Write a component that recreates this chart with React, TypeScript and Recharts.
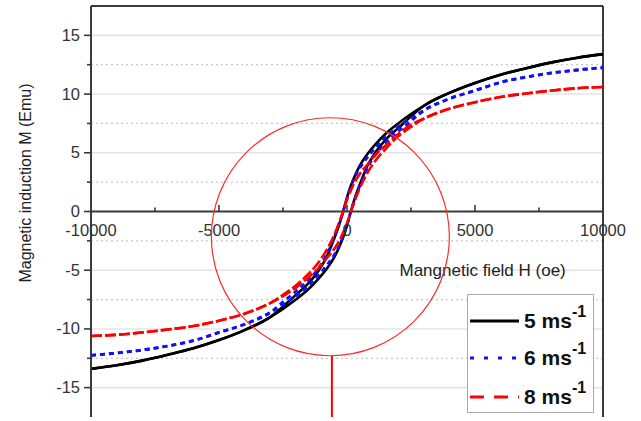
import React from "react";
import {
  LineChart,
  Line,
  XAxis,
  YAxis,
  CartesianGrid,
  ReferenceLine,
  ReferenceDot,
  Legend,
} from "recharts";

// applied field H (oe), shared by every branch
const field = [
  -10000, -9000, -8000, -7000, -6000, -5000, -4000, -3000, -2500, -2000, -1500, -1100, -800, -500, -300, -150, 0,
  150, 300, 500, 800, 1100, 1500, 2000, 2500, 3000, 4000, 5000, 6000, 7000, 8000, 9000, 10000,
];

// 5 ms-1
const m5Rise = [
  -13.4, -13.1, -12.7, -12.2, -11.65, -10.95, -10.1, -9.0, -8.3, -7.5, -6.6, -5.7, -4.9, -3.9, -3.0, -2.2, -1.2,
  0, 1.1, 2.3, 3.9, 5.0, 6.1, 7.1, 8.1, 9.0, 10.1, 10.95, 11.65, 12.2, 12.7, 13.1, 13.4,
];
const m5Fall = [
  -13.4, -13.1, -12.7, -12.2, -11.65, -10.95, -10.1, -9.0, -8.1, -7.1, -6.1, -5.0, -3.9, -2.3, -1.1, 0, 1.2,
  2.2, 3.0, 3.9, 4.9, 5.7, 6.6, 7.5, 8.3, 9.0, 10.1, 10.95, 11.65, 12.2, 12.7, 13.1, 13.4,
];

// 6 ms-1
const m6Rise = [
  -12.25, -12.05, -11.8, -11.45, -11.0, -10.3, -9.6, -8.6, -7.95, -7.2, -6.3, -5.4, -4.6, -3.7, -2.9, -2.1, -1.1,
  0, 1.0, 2.2, 3.7, 4.8, 5.8, 6.8, 7.7, 8.6, 9.6, 10.3, 11.0, 11.45, 11.8, 12.05, 12.25,
];
const m6Fall = [
  -12.25, -12.05, -11.8, -11.45, -11.0, -10.3, -9.6, -8.6, -7.7, -6.8, -5.8, -4.8, -3.7, -2.2, -1.0, 0, 1.1,
  2.1, 2.9, 3.7, 4.6, 5.4, 6.3, 7.2, 7.95, 8.6, 9.6, 10.3, 11.0, 11.45, 11.8, 12.05, 12.25,
];

// 8 ms-1
const m8Rise = [
  -10.6, -10.5, -10.3, -10.05, -9.75, -9.3, -8.7, -7.8, -7.2, -6.5, -5.6, -4.8, -4.0, -3.2, -2.5, -1.8, -1.0,
  0, 0.9, 2.0, 3.3, 4.3, 5.3, 6.4, 7.2, 7.9, 8.75, 9.3, 9.75, 10.05, 10.3, 10.5, 10.6,
];
const m8Fall = [
  -10.6, -10.5, -10.3, -10.05, -9.75, -9.3, -8.7, -7.8, -7.1, -6.3, -5.3, -4.3, -3.3, -2.0, -0.9, 0, 1.0,
  1.8, 2.5, 3.2, 4.0, 4.8, 5.6, 6.6, 7.4, 7.9, 8.75, 9.3, 9.75, 10.05, 10.3, 10.5, 10.6,
];

const speedLabels = ["5", "6", "8"];

const yTicks = [-15, -12.5, -10, -7.5, -5, -2.5, 0, 2.5, 5, 7.5, 10, 12.5, 15];
const majorGrid = [-15, -10, -5, 5, 10, 15];
const minorGrid = [-12.5, -7.5, -2.5, 2.5, 7.5, 12.5];
const xMajorTicks = [-5000, 0, 5000];
const xMinorTicks = [-7500, -2500, 2500, 7500];
const xTickValues = [-10000, -5000, 0, 5000, 10000];
const xTickLabels = ["-10000", "-5000", "0", "5000", "10000"];

const data = field.map((h, i) => ({
  h,
  r5: m5Rise[i],
  f5: m5Fall[i],
  r6: m6Rise[i],
  f6: m6Fall[i],
  r8: m8Rise[i],
  f8: m8Fall[i],
}));

const FONT = "'Liberation Sans', Arial, sans-serif";
const AXIS = "#3a3a3a";

const seriesStyle = [
  { color: "#000000", dash: undefined as string | undefined, width: 2.6, legendDash: undefined as string | undefined },
  { color: "#1010ff", dash: "5 4", width: 2.8, legendDash: "4 10" },
  { color: "#ff0000", dash: "11 3", width: 2.6, legendDash: "14 10" },
];

function YTick(props: any) {
  const { x, y, payload } = props;
  const v = payload.value as number;
  const major = v % 5 === 0;
  return (
    <g>
      <line x1={x - (major ? 7 : 4)} y1={y} x2={x} y2={y} stroke={AXIS} strokeWidth={1.6} />
      {major && (
        <text x={x - 11} y={y + 5.5} textAnchor="end" fontSize={16.5} fill="#333" fontFamily={FONT}>
          {v}
        </text>
      )}
    </g>
  );
}

function LegendBox() {
  const rows = [27, 64, 103];
  return (
    <svg width={127} height={119} style={{ display: "block" }}>
      <rect x={0.5} y={0.5} width={126} height={118} fill="#fff" stroke="#a8a8a8" strokeWidth={1} />
      {speedLabels.map((s, i) => (
        <g key={s}>
          <line
            x1={3}
            x2={52}
            y1={rows[i]}
            y2={rows[i]}
            stroke={seriesStyle[i].color}
            strokeWidth={3}
            strokeDasharray={seriesStyle[i].legendDash}
          />
          <text x={57} y={rows[i] + 7} fontSize={21} fontWeight="bold" fill="#111" fontFamily={FONT}>
            {s} ms
            <tspan fontSize={16} dy={-11}>
              -1
            </tspan>
          </text>
        </g>
      ))}
    </svg>
  );
}

export default function App() {
  return (
    <div style={{ position: "absolute", left: 0, top: 0, width: 641, height: 421, background: "#fff" }}>
      <LineChart width={641} height={421} data={data} margin={{ top: 6, right: 38, left: 31, bottom: 4 }}>
        <CartesianGrid horizontal vertical={false} horizontalValues={majorGrid} stroke="#e4e4e4" strokeWidth={1.6} />
        <CartesianGrid
          horizontal
          vertical={false}
          horizontalValues={minorGrid}
          stroke="#c8c8c8"
          strokeWidth={1.2}
          strokeDasharray="2 3"
        />
        <XAxis dataKey="h" type="number" domain={[-10000, 10000]} hide />
        <YAxis
          type="number"
          domain={[-17.5, 17.5]}
          ticks={yTicks}
          interval={0}
          width={60}
          tickSize={0}
          tickMargin={0}
          tickLine={false}
          axisLine={{ stroke: AXIS, strokeWidth: 2 }}
          tick={<YTick />}
          label={{
            content: () => (
              <text
                transform="translate(31, 183) rotate(-90)"
                textAnchor="middle"
                fontSize={16}
                fill="#222"
                fontFamily={FONT}
              >
                Magnetic induction M (Emu)
              </text>
            ),
          }}
        />

        {/* frame and the centre field axis */}
        <ReferenceLine y={17.5} stroke={AXIS} strokeWidth={2} />
        <ReferenceLine x={10000} stroke={AXIS} strokeWidth={2} />
        <ReferenceLine y={0} stroke={AXIS} strokeWidth={2} />
        {xMajorTicks.map((v) => (
          <ReferenceLine key={"M" + v} segment={[{ x: v, y: 0 }, { x: v, y: 0.55 }]} stroke={AXIS} strokeWidth={1.6} />
        ))}
        {xMinorTicks.map((v) => (
          <ReferenceLine key={"m" + v} segment={[{ x: v, y: 0 }, { x: v, y: 0.35 }]} stroke={AXIS} strokeWidth={1.6} />
        ))}
        {xTickValues.map((v, i) => (
          <ReferenceDot
            key={"t" + v}
            x={v}
            y={0}
            r={0}
            ifOverflow="visible"
            shape={(p: any) => (
              <text x={p.cx} y={p.cy + 24.5} textAnchor="middle" fontSize={16.5} fill="#333" fontFamily={FONT}>
                {xTickLabels[i]}
              </text>
            )}
          />
        ))}
        <ReferenceDot
          x={2050}
          y={-5}
          r={0}
          ifOverflow="visible"
          shape={(p: any) => (
            <text x={p.cx} y={p.cy + 6} textAnchor="start" fontSize={17} fill="#222" fontFamily={FONT}>
              Mangnetic field H (oe)
            </text>
          )}
        />

        <Line type="monotone" dataKey="r5" stroke={seriesStyle[0].color} strokeWidth={seriesStyle[0].width} dot={false} activeDot={false} isAnimationActive={false} />
        <Line type="monotone" dataKey="f5" stroke={seriesStyle[0].color} strokeWidth={seriesStyle[0].width} dot={false} activeDot={false} isAnimationActive={false} />
        <Line type="monotone" dataKey="r6" stroke={seriesStyle[1].color} strokeWidth={seriesStyle[1].width} strokeDasharray={seriesStyle[1].dash} dot={false} activeDot={false} isAnimationActive={false} />
        <Line type="monotone" dataKey="f6" stroke={seriesStyle[1].color} strokeWidth={seriesStyle[1].width} strokeDasharray={seriesStyle[1].dash} dot={false} activeDot={false} isAnimationActive={false} />
        <Line type="monotone" dataKey="r8" stroke={seriesStyle[2].color} strokeWidth={seriesStyle[2].width} strokeDasharray={seriesStyle[2].dash} dot={false} activeDot={false} isAnimationActive={false} />
        <Line type="monotone" dataKey="f8" stroke={seriesStyle[2].color} strokeWidth={seriesStyle[2].width} strokeDasharray={seriesStyle[2].dash} dot={false} activeDot={false} isAnimationActive={false} />

        {/* red highlight circle with its pointer line */}
        <ReferenceDot x={-650} y={-2.15} r={119} fill="none" stroke="#ff2a2a" strokeWidth={1.2} ifOverflow="visible" />
        <ReferenceLine
          segment={[{ x: -590, y: -12.3 }, { x: -590, y: -17.5 }]}
          stroke="#ff0000"
          strokeWidth={2}
        />

        <Legend
          layout="horizontal"
          verticalAlign="middle"
          align="center"
          wrapperStyle={{ position: "absolute", left: 467, top: 294, width: 127, height: 119 }}
          content={() => <LegendBox />}
        />
      </LineChart>
    </div>
  );
}
